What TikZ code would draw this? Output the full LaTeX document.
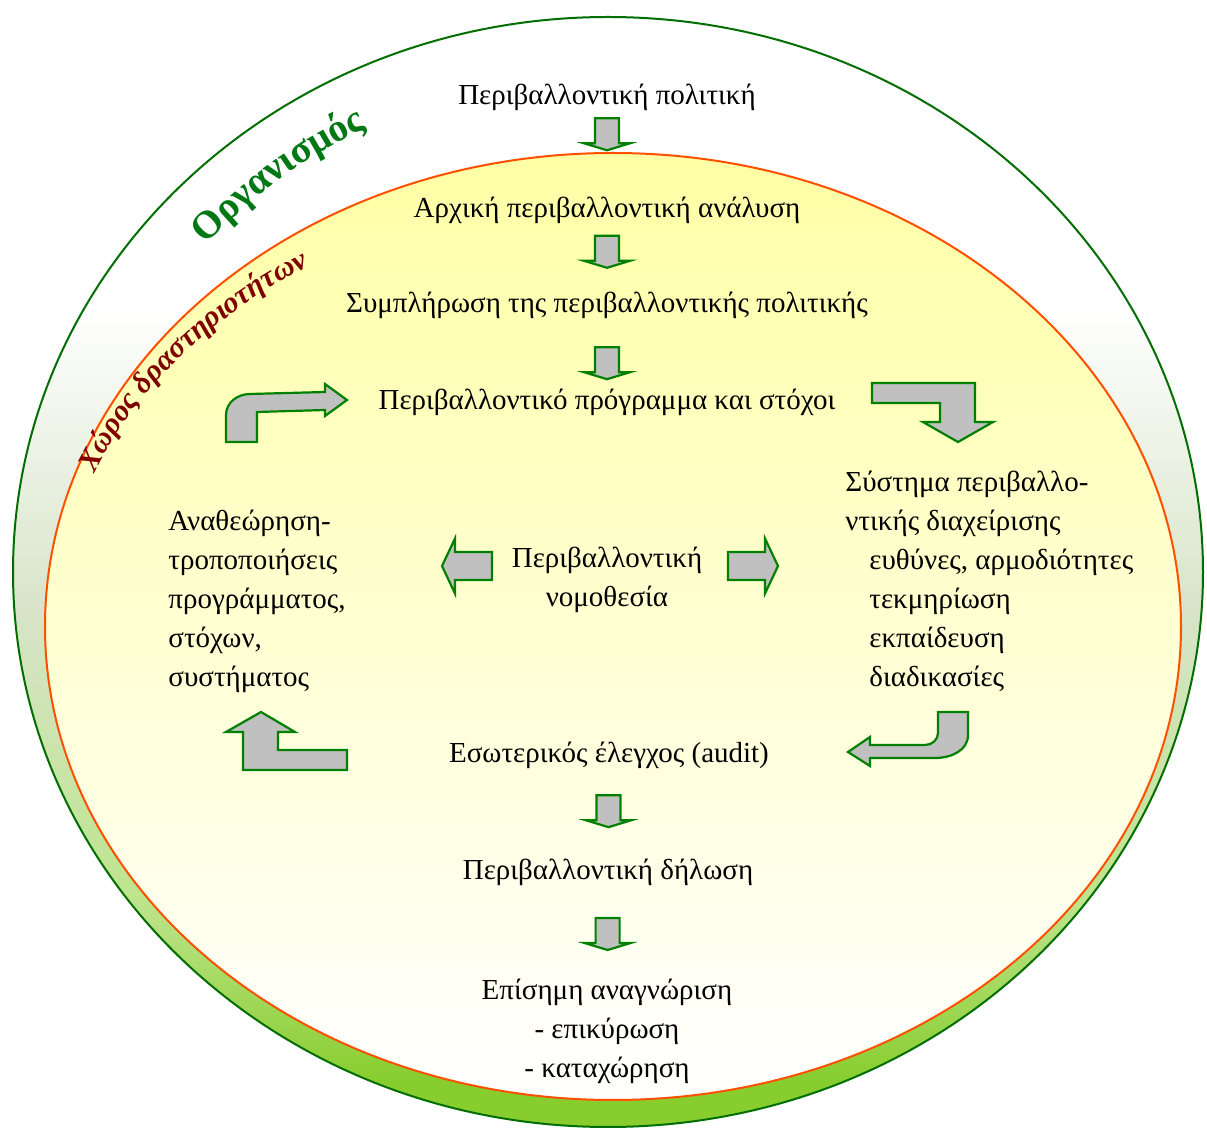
\documentclass[tikz,border=0pt]{standalone}
\usepackage{fontspec}
\setmainfont{Liberation Serif}
\usetikzlibrary{calc,decorations.text}

\definecolor{arrgreen}{RGB}{0,128,0}
\definecolor{arrgray}{RGB}{192,192,192}
\definecolor{orgline}{RGB}{0,110,0}
\definecolor{orgtext}{RGB}{0,120,20}
\definecolor{innerline}{RGB}{255,80,0}
\definecolor{paleyellow}{RGB}{255,255,165}
\definecolor{bandgreen}{RGB}{135,205,45}
\definecolor{sidegreen}{RGB}{215,228,200}
\definecolor{labelred}{RGB}{128,0,0}

\newcommand\orgfont{\fontsize{19.5}{19.5}\selectfont\bfseries\color{orgtext}}
\newcommand\areafont{\fontsize{15}{15}\selectfont\bfseries\itshape\color{labelred}}

\pgfdeclareverticalshading{outershade}{100bp}{color(0bp)=(bandgreen);
  color(27bp)=(bandgreen); color(35bp)=(bandgreen!55!white);
  color(48bp)=(sidegreen); color(62bp)=(white); color(100bp)=(white)}

\tikzset{
  blockarr/.style={draw=arrgreen, fill=arrgray, line width=1.1pt, line join=miter},
  txt/.style={inner sep=0pt, font=\fontsize{14.5}{19.5}\selectfont},
  downarr/.pic={
    \draw[blockarr] (-12,16) -- (12,16) -- (12,-9) -- (23,-9) -- (0,-16)
      -- (-23,-9) -- (-12,-9) -- cycle;
  },
  sidearr/.pic={
    \draw[blockarr] (-18.5,14) -- (18.5,14) -- (18.5,27.5) -- (31.5,0)
      -- (18.5,-27.5) -- (18.5,-14) -- (-18.5,-14) -- cycle;
  }
}

\begin{document}
\begin{tikzpicture}[x=0.5pt,y=0.5pt]
	\useasboundingbox (0,0) rectangle (1207,-1128);

	% the two areas
	\shade[shading=outershade] (608,-572) ellipse [x radius=595, y radius=555];
	\draw[orgline, line width=1pt] (608,-572) ellipse [x radius=595, y radius=555];
	\shade[top color=paleyellow, middle color=paleyellow, bottom color=white]
	  (613,-626.5) ellipse [x radius=568, y radius=473.5];
	\draw[innerline, line width=1pt] (613,-626.5) ellipse [x radius=568, y radius=473.5];

	\path[decorate, decoration={text along path, text align=center,
	    text={|\orgfont|Οργανισμός}}]
	  (195,-255) to[bend left=10] (380,-121);
	\path[decorate, decoration={text along path, text align=center,
	    text={|\areafont|Χώρος δραστηριοτήτων}}]
	  (82.3,-500.3) arc [start angle=163, end angle=120, x radius=555, y radius=430];

	% steps
	\node[txt] (pol) at (607,-97) {Περιβαλλοντική πολιτική};
	\node[txt] (ana) at (607,-210) {Αρχική περιβαλλοντική ανάλυση};
	\node[txt] (comp) at (607,-305) {Συμπλήρωση της περιβαλλοντικής πολιτικής};
	\node[txt] (prog) at (607,-402) {Περιβαλλοντικό πρόγραμμα και στόχοι};
	\node[txt, align=center] (law) at (607,-580) {Περιβαλλοντική\\νομοθεσία};
	\node[txt] (audit) at (609,-755) {Εσωτερικός έλεγχος (audit)};
	\node[txt] (decl) at (608,-872) {Περιβαλλοντική δήλωση};
	\node[txt, align=center] (recog) at (607,-1031)
	  {Επίσημη αναγνώριση\\- επικύρωση\\- καταχώρηση};
	\node[txt, align=left, anchor=west] (rev) at (168,-601.5)
	  {Αναθεώρηση-\\τροποποιήσεις\\προγράμματος,\\στόχων,\\συστήματος};
	\node[txt, align=left, anchor=west] (sys) at (845,-581.5)
	  {Σύστημα περιβαλλο-\\ντικής διαχείρισης\\
	   \hspace*{12pt}ευθύνες, αρμοδιότητες\\\hspace*{12pt}τεκμηρίωση\\
	   \hspace*{12pt}εκπαίδευση\\\hspace*{12pt}διαδικασίες};

	\foreach \a/\b/\f in {pol/ana/0.33, ana/comp/0.44, comp/prog/0.6,
	                      audit/decl/0.48, decl/recog/0.39}
	  {
	    \pic at ($(\a)!\f!(\b)$) {downarr};
	  }

	\pic[rotate=180] at (473.5,-566) {sidearr};
	\pic at (746.5,-566) {sidearr};

	% bent arrows round the cycle
	\draw[blockarr] (872,-383) -- (975,-383) -- (975,-422) -- (993,-422) -- (958,-442)
	  -- (923,-422) -- (940,-422) -- (940,-403) -- (872,-403) -- cycle;
	\draw[blockarr] (938,-712) -- (968,-712) -- (968,-735) to[out=-90,in=0] (935,-758)
	  -- (870,-758) -- (870,-766) -- (848,-752) -- (870,-737) -- (870,-745)
	  -- (925,-745) to[out=0,in=-90] (938,-733) -- cycle;
	\draw[blockarr] (243,-770) -- (347,-770) -- (347,-750) -- (278,-750) -- (278,-732)
	  -- (295,-732) -- (261,-712) -- (226,-732) -- (243,-732) -- cycle;
	\draw[blockarr] (226,-442) -- (226,-415) to[out=90,in=180] (250,-394) -- (325,-392)
	  -- (325,-384) -- (347,-400) -- (325,-416) -- (325,-410) -- (257,-412)
	  -- (257,-442) -- cycle;
\end{tikzpicture}
\end{document}
